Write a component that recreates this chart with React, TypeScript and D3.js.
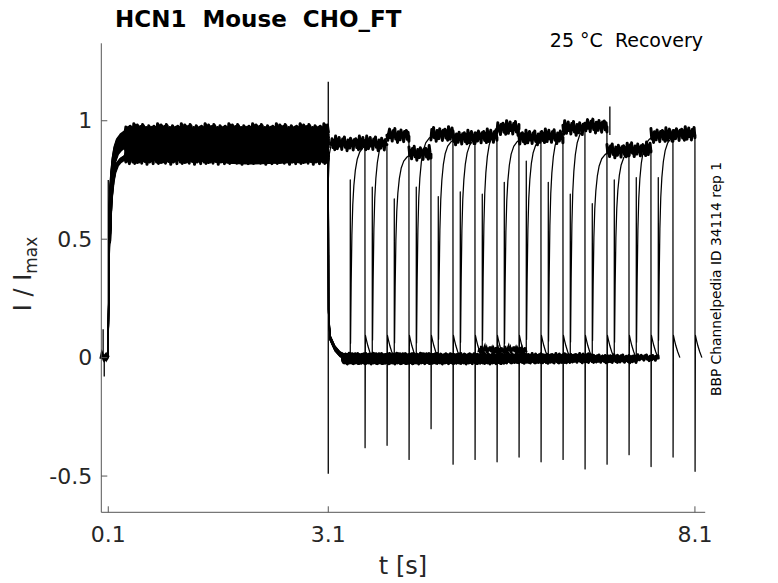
import * as d3 from "d3";

// sweep k: test pulse starts at onsetTimes[k], stops at endTimes[k]
const onsetTimes = [3.1, 3.4, 3.7, 4.0, 4.3, 4.6, 4.9, 5.2, 5.5, 5.8, 6.1, 6.4, 6.7, 7.0, 7.3, 7.6];
const endTimes = [3.6, 3.9, 4.2, 4.5, 4.8, 5.1, 5.4, 5.7, 6.0, 6.3, 6.6, 6.9, 7.2, 7.5, 7.8, 8.1];
const prepulseLevels = [0.9, 0.89, 0.92, 0.84, 0.93, 0.91, 0.9, 0.95, 0.9, 0.91, 0.94, 0.955, 0.85, 0.85, 0.92, 0.93];
const testLevels = [0.9, 0.9, 0.935, 0.86, 0.94, 0.925, 0.93, 0.965, 0.925, 0.93, 0.965, 0.975, 0.87, 0.875, 0.935, 0.94];
const baselineLevels = [-0.005, -0.012, 0.0, -0.008, -0.015, 0.004, -0.01, -0.004, -0.016, 0.002, -0.009, -0.013, 0.003, -0.006, -0.011, -0.002];
const onsetPeaks = [0.9, 0.75, 0.72, 0.67, 0.72, 0.68, 0.7, 0.69, 0.74, 0.83, 0.74, 0.69, 0.65, 0.75, 0.76, 0.76];
const endSpikeMins = [-0.38, -0.37, -0.43, -0.3, -0.45, -0.43, -0.44, -0.42, -0.44, -0.43, -0.47, -0.45, -0.41, -0.46, -0.42, -0.48];

// shapes (time after the step, fraction / value)
const actT = [0, 0.008, 0.018, 0.03, 0.045, 0.065, 0.09, 0.125, 0.17, 0.23];
const actF = [0.08, 0.35, 0.58, 0.72, 0.81, 0.88, 0.93, 0.965, 0.985, 1];
const deactT = [0.004, 0.024, 0.09, 0.16, 0.23, 0.3];
const deactV = [0.2, 0.09, 0.045, 0.02, 0.01, 0];
const tailT = [0.006, 0.02, 0.04, 0.065, 0.095];
const tailV = [0.095, 0.075, 0.05, 0.025, 0.0];

const ripple = [0, 0.022, -0.012, 0.015, -0.02, 0.032, 0.004, -0.016, 0.011, 0.027, -0.006, 0.013, -0.019, 0.021, -0.002, 0.029, -0.011, 0.008, -0.024, 0.017, 0.006, -0.014, 0.024, -0.004, 0.012, -0.021, 0.018];
const rippleStep = 0.012;

// envelope of the overlaid prepulse traces (solid core)
const envT = [0.32, 0.5, 1.0, 1.5, 2.0, 2.5, 3.08];
const envTop = [0.96, 0.96, 0.95, 0.945, 0.94, 0.945, 0.955];
const envBottom = [0.835, 0.835, 0.83, 0.825, 0.815, 0.82, 0.825];

// step transients [t, from, to]
const stepSpikes: [number, number, number][] = [
  [0.045, -0.08, 0.0],
  [0.03, 0.0, 0.12],
  [0.1, 0.0, 0.75],
  [3.1, -0.49, 1.165],
  [6.94, 0.94, 1.06],
];
const baselineBlob: [number, number, number] = [5.15, 5.8, 0.03];

const xTicks = [0.1, 3.1, 8.1];
const yTicks = [1, 0.5, 0, -0.5];

const W = 778;
const H = 583;
const font = "'DejaVu Sans', sans-serif";

type Pt = [number, number];

// noisy flat stretch from t0 to t1 at level v
const noisy = (t0: number, t1: number, v: number, amp: number, offset: number): Pt[] => {
  const pts: Pt[] = [];
  let i = 0;
  for (let t = t0; t < t1; t += rippleStep, i++) {
    pts.push([t, v + amp * ripple[(i + offset) % ripple.length]]);
  }
  pts.push([t1, v]);
  return pts;
};

export default function App() {
  const x = d3.scaleLinear().domain([0.005, 8.24]).range([101.3, 705.2]);
  const y = d3.scaleLinear().domain([-0.653, 1.327]).range([512.3, 43.3]);
  const line = d3.line<Pt>().x(d => x(d[0])).y(d => y(d[1]));
  const area = d3.area<number>()
    .x((_, i) => x(envT[i]))
    .y0((_, i) => y(envBottom[i]))
    .y1((_, i) => y(envTop[i]))
    .curve(d3.curveMonotoneX);

  const sweeps = onsetTimes.map((s, k) => {
    const P = prepulseLevels[k];
    const L = testLevels[k];
    const B = baselineLevels[k];
    const e = endTimes[k];
    const thick: Pt[][] = [];
    const rise: Pt[] = actT.slice(2).map((dt, i) => [0.1 + dt, P * actF[i + 2]] as Pt);
    const pre = [...rise, ...noisy(0.34, 3.1, P, 1, k * 7)];
    const pts: Pt[] = [[0.1, 0], ...actT.slice(0, 2).map((dt, i) => [0.1 + dt, P * actF[i]] as Pt), ...pre];
    thick.push(pre);
    if (s > 3.1) {
      deactT.forEach((dt, i) => pts.push([3.1 + dt, B + deactV[i]]));
      const base = noisy(3.3, s, B, 0.45, k * 5);
      pts.push(...base);
      thick.push(base);
      pts.push([s, onsetPeaks[k]]);
      actT.forEach((dt, i) => pts.push([s + 0.004 + dt, B + (L - B) * actF[i]]));
      const top = noisy(s + 0.2, e, L, 1.1, k * 3);
      pts.push(...top);
      thick.push(top);
    } else {
      pts.push([3.102, 0.76]);
      pts.push([3.115, 0.86]);
      const top = noisy(3.14, e, L, 1.1, k * 3);
      pts.push(...top);
      thick.push(top);
    }
    pts.push([e + 0.002, endSpikeMins[k]]);
    tailT.forEach((dt, i) => pts.push([e + dt, tailV[i]]));
    return { pts, thick };
  });

  return (
    <svg width={W} height={H} style={{ position: "absolute", left: 0, top: 0, display: "block", background: "#fff" }}>
      <rect width={W} height={H} fill="#fff" />
      <g>
        <path d={line(noisy(0.005, 0.1, 0, 0.3, 4)) ?? ""} stroke="#000" strokeWidth={4} fill="none" />
        <path d={area(envT) ?? ""} fill="#000" />
        {sweeps.map((sw, k) => (
          <g key={k}>
            {sw.thick.map((seg, i) => (
              <path key={i} d={line(seg) ?? ""} stroke="#000" strokeWidth={3} fill="none" strokeLinejoin="round" strokeLinecap="round" />
            ))}
            <path d={line(sw.pts) ?? ""} stroke="#000" strokeWidth={1.25} fill="none" strokeLinejoin="round" />
          </g>
        ))}
        <path d={line(noisy(baselineBlob[0], baselineBlob[1], baselineBlob[2], 0.6, 2)) ?? ""} stroke="#000" strokeWidth={2.5} fill="none" />
        {stepSpikes.map((d, i) => (
          <line key={i} x1={x(d[0])} x2={x(d[0])} y1={y(d[1])} y2={y(d[2])} stroke="#000" strokeWidth={1.3} />
        ))}
      </g>
      {/* axes */}
      <g stroke="#555" strokeWidth={1} fill="none">
        <line x1={x.range()[0]} x2={x.range()[0]} y1={y.range()[0]} y2={y.range()[1]} />
        <line x1={x.range()[0]} x2={x.range()[1]} y1={y.range()[0]} y2={y.range()[0]} />
        {yTicks.map(t => (
          <line key={t} x1={x.range()[0]} x2={x.range()[0] + 6} y1={y(t)} y2={y(t)} />
        ))}
        {xTicks.map(t => (
          <line key={t} x1={x(t)} x2={x(t)} y1={y.range()[0]} y2={y.range()[0] - 6} />
        ))}
      </g>
      <g fontFamily={font} fill="#262626" fontSize={22}>
        {yTicks.map(t => (
          <text key={t} x={x.range()[0] - 9} y={y(t)} dy="0.35em" textAnchor="end">{String(t)}</text>
        ))}
        {xTicks.map(t => (
          <text key={t} x={x(t)} y={541.5} textAnchor="middle">{t.toFixed(1)}</text>
        ))}
        <text x={403} y={574} textAnchor="middle" fontSize={24}>t [s]</text>
        <text transform="translate(31,274) rotate(-90)" textAnchor="middle" fontSize={24}>
          I / I<tspan fontSize={17} dy={6}>max</tspan>
        </text>
      </g>
      <text x={115} y={26.5} fontFamily={font} fontWeight="bold" fontSize={23} fill="#000" style={{ whiteSpace: "pre" }}>
        {"HCN1  Mouse  CHO_FT"}
      </text>
      <text x={703} y={47.3} fontFamily={font} fontSize={19} textAnchor="end" fill="#000" style={{ whiteSpace: "pre" }}>
        {"25 °C  Recovery"}
      </text>
      <text transform="translate(721,279) rotate(-90)" fontFamily={font} fontSize={13.8} textAnchor="middle" fill="#000">
        BBP Channelpedia ID 34114 rep 1
      </text>
    </svg>
  );
}
